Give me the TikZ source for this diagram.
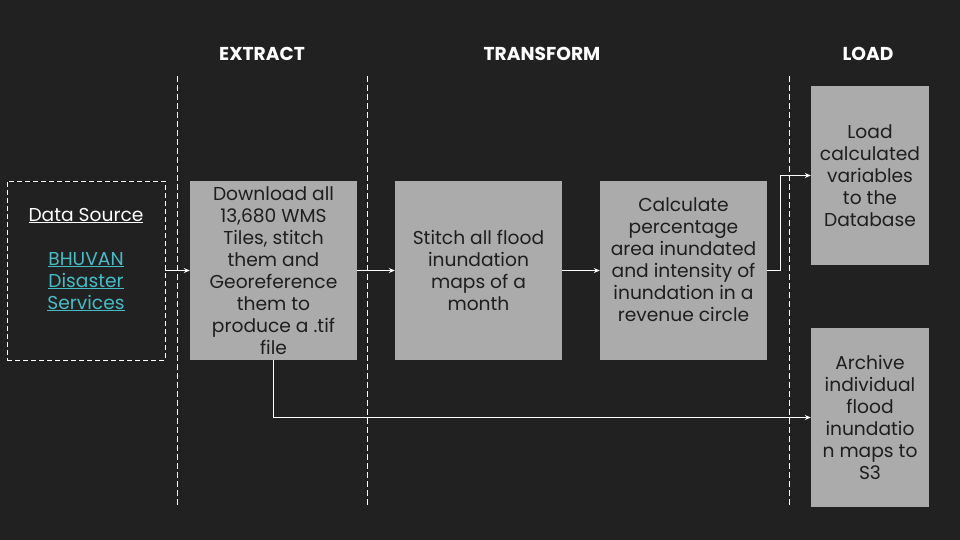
\documentclass[tikz,border=0pt]{standalone}
\usepackage{fontspec}
\setmainfont{Poppins}
\usetikzlibrary{arrows.meta}
\definecolor{bg}{HTML}{212121}
\definecolor{boxgray}{HTML}{ABABAB}
\definecolor{boxtext}{HTML}{1E1E1E}
\definecolor{linkteal}{HTML}{46BDC6}
\newcommand{\lnk}[1]{\textcolor{linkteal}{\underline{#1}}}
\begin{document}
\begin{tikzpicture}[x=1pt,y=-1pt,
  txt/.style={font=\fontsize{18.67}{22}\selectfont, align=center},
  box/.style={txt, fill=boxgray, text=boxtext, inner sep=0pt, minimum width=167pt, minimum height=179pt},
  lbox/.style={box, minimum width=118pt},
  srcbox/.style={txt, draw=white, dashed, dash pattern=on 5pt off 3pt, line width=0.9pt, text=white, inner sep=0pt, minimum width=158pt, minimum height=179pt},
  btxt/.style={txt, text=boxtext, inner sep=0pt},
  hdr/.style={font=\fontsize{18.67}{22}\selectfont\bfseries, text=white},
  lane/.style={draw=white, line width=0.9pt, dash pattern=on 6pt off 3pt},
  conn/.style={draw=white, line width=1.1pt, -{Stealth[length=6pt,width=5pt]}}]
\fill[bg] (0,0) rectangle (960,540);
\useasboundingbox (0,0) rectangle (960,540);

% headers
\node[hdr] (hE) at (262,54) {EXTRACT};
\node[hdr] (hT) at (542,54) {TRANSFORM};
\node[hdr] (hL) at (868,54) {LOAD};

% lane separators
\foreach \x/\n in {177/a,367/b,789/c}{
  \coordinate (t\n) at (\x,76);
  \coordinate (u\n) at (\x,507);
  \draw[lane] (t\n) -- (u\n);
}

% boxes
\node[srcbox] (ds) at (86,270.5) {};
\node[txt, text=white, inner sep=0pt] (dst) at ([yshift=11pt]ds.center) {\underline{Data Source}\\[22pt] \lnk{BHUVAN}\\ \lnk{Disaster}\\ \lnk{Services}};
\node[box] (b1) at (273.5,270.5) {Download all\\13,680 WMS\\Tiles, stitch\\them and\\Georeference\\them to\\produce a .tif\\file};
\node[box] (b2) at (478.5,270.5) {Stitch all flood\\inundation\\maps of a\\month};
\node[box] (b3) at (683.5,270.5) {};
\node[btxt] (b3t) at ([yshift=11pt]b3.center) {Calculate\\percentage\\area inundated\\and intensity of\\inundation in a\\revenue circle};
\node[lbox] (b4) at (870,175.5) {Load\\calculated\\variables\\to the\\Database};
\node[lbox] (b5) at (870,417.5) {Archive\\individual\\flood\\inundatio\\n maps to\\S3};

% connectors
\draw[conn] (ds.east) -- (b1.west);
\draw[conn] (b1.east) -- (b2.west);
\draw[conn] (b2.east) -- (b3.west);
\draw[conn] (b3.east) -- ++(13,0) |- (b4.west);
\draw[conn] (b1.south) |- (b5.west);
\end{tikzpicture}
\end{document}
